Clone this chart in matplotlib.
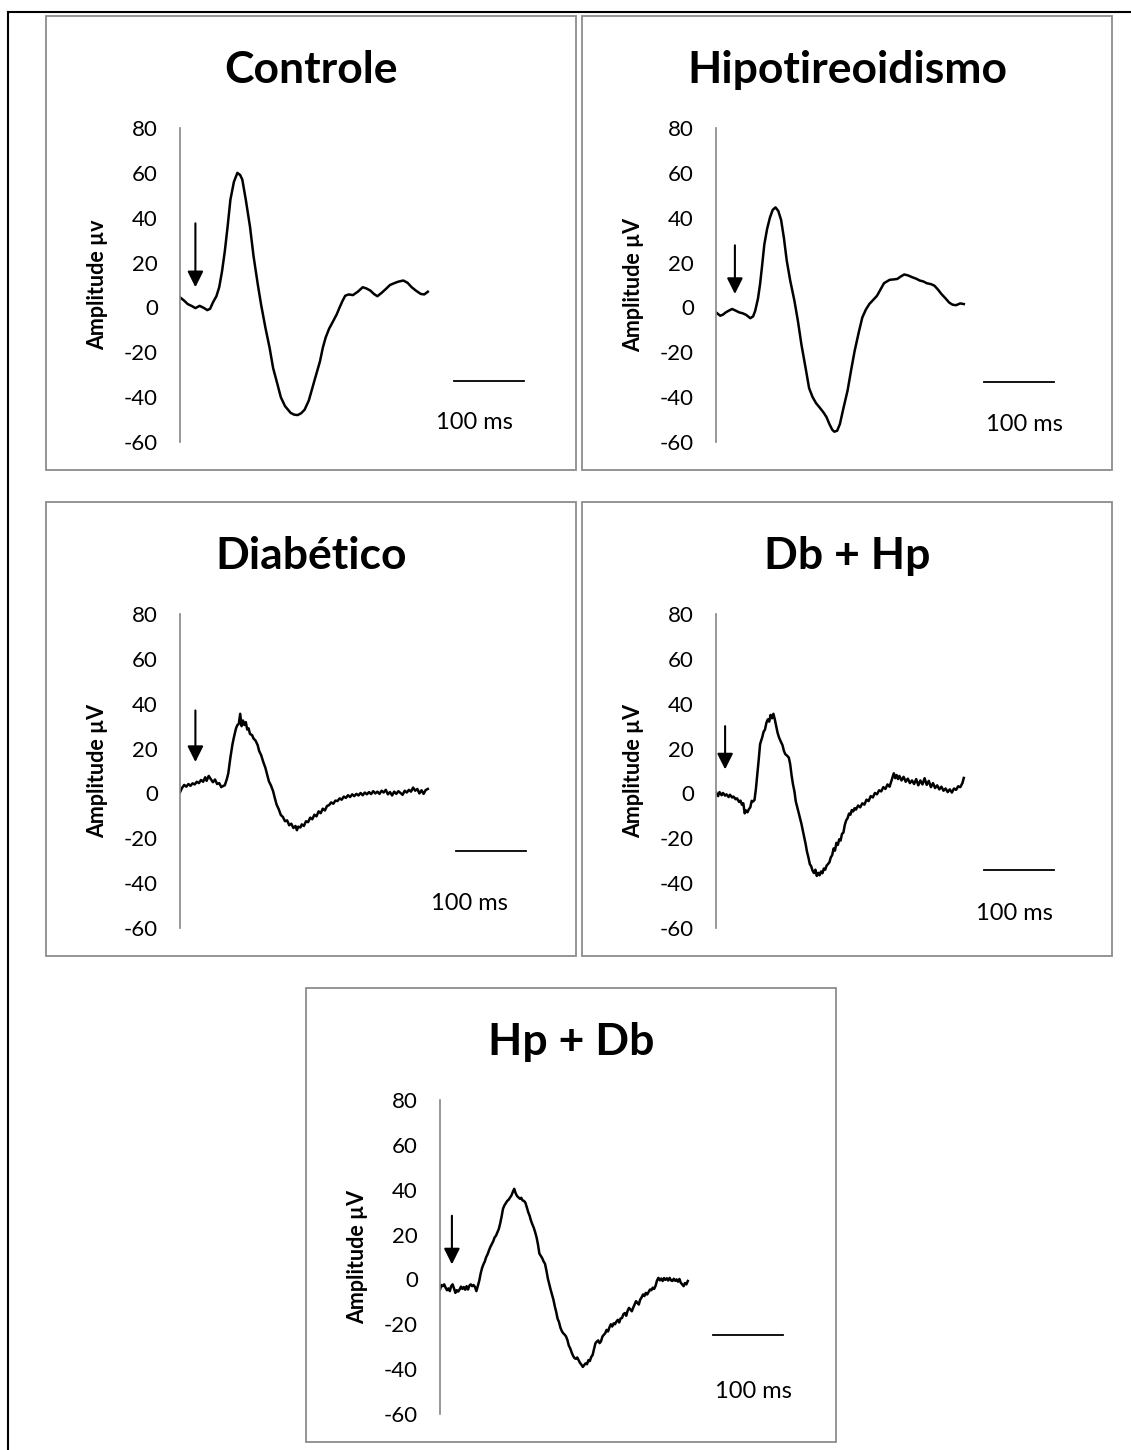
import matplotlib.pyplot as plt
from matplotlib.patches import Rectangle
from matplotlib.lines import Line2D

W, H = 1131, 1450
plt.rcParams['font.family'] = ['Lato', 'DejaVu Sans']
plt.rcParams['axes.unicode_minus'] = False

titles = ["Controle", "Hipotireoidismo", "Diabético", "Db + Hp", "Hp + Db"]
ylabels = ["Amplitude µv", "Amplitude µV", "Amplitude µV", "Amplitude µV", "Amplitude µV"]
yticks = [-60, -40, -20, 0, 20, 40, 60, 80]

# traces: time in ms, amplitude in microvolts
controle_t = [0, 6, 11, 17, 22, 28, 34, 39, 43, 47, 52, 56, 60, 64, 68, 72, 77, 82, 86, 89,
              94, 100, 105, 111, 116, 122, 128, 133, 139, 144, 150, 158, 163, 168, 173, 178,
              184, 189, 194, 200, 204, 208, 213, 219, 224, 228, 232, 236, 241, 247, 254, 261,
              266, 272, 277, 282, 288, 294, 300, 306, 312, 319, 325, 331, 337, 344, 349, 354]
controle_v = [4.5, 3.0, 1.5, 0.6, -0.3, 0.7, -0.2, -1.2, -0.6, 2.2, 5.0, 9.0, 16, 25, 36, 48, 56, 60, 59, 57,
              48, 36, 23, 10.5, 1, -9, -18, -27, -34, -40, -44, -47, -47.8, -48, -47.2, -45.6,
              -41.5, -36, -30.5, -24, -18, -13.5, -9.5, -6, -3, 0, 2.8, 5.2, 5.8, 5.5, 7.0, 9.0,
              8.5, 7.5, 6.0, 5.0, 6.5, 8.2, 10.0, 10.8, 11.5, 12.0, 11.0, 9.0, 7.5, 6.0, 5.8, 7.0]

hipo_t = [0, 6, 10, 14, 18, 23, 28, 33, 38, 43, 49, 53, 56, 60, 63, 66, 69, 73, 77, 81, 85,
          89, 93, 97, 101, 106, 112, 117, 122, 128, 133, 138, 143, 149, 154, 158, 162, 166, 169,
          173, 177, 182, 188, 193, 198, 204, 209, 214, 219, 225, 230, 235, 240, 248, 254, 259,
          264, 269, 275, 280, 286, 291, 296, 301, 307, 312, 317, 322, 328, 333, 338, 343, 349, 354]
hipo_v = [-2.2, -3.7, -3.2, -2.2, -1.5, -0.7, -1.4, -2.2, -2.6, -3.3, -4.8, -4.0, -1.5, 4, 10.5, 19, 28, 35, 40, 43.5, 44.6,
          43, 39, 31, 21, 12, 3, -6, -16.5, -27, -36, -40, -42.7, -45, -47, -49, -52, -54.5, -55.4,
          -55, -52, -45, -37, -28, -19.5, -11, -4.5, -1, 1.5, 3.5, 5.2, 8, 10.8, 12.3, 12.5, 12.7,
          13.8, 14.7, 14.2, 13.5, 12.8, 12.0, 11.6, 10.8, 10.4, 9.7, 8.0, 6.0, 4.0, 2.2, 1.2, 1.0, 1.8, 1.5]

diab_t = [0, 3, 6, 9, 12, 15, 18, 21, 24, 27, 30, 33, 36, 38, 41, 44, 47, 50, 53, 56, 59, 62, 64,
          67, 69, 72, 75, 77, 80, 82, 84, 86, 88, 90, 92, 94, 96, 98, 100, 103, 105, 108, 111, 113,
          116, 119, 122, 124, 127, 130, 133, 135, 138, 141, 144, 147, 150, 153, 156, 159, 162, 165,
          167, 169, 172, 174, 177, 180, 183, 186, 189, 192, 195, 198, 201, 204, 207, 210, 213, 216,
          219, 222, 225, 228, 231, 234, 237, 240, 243, 246, 249, 252, 255, 258, 261, 264, 267, 270,
          273, 276, 279, 282, 285, 288, 291, 294, 297, 300, 303, 306, 309, 312, 315, 318, 321, 324,
          327, 330, 333, 336, 339, 342, 345, 348, 351, 354]
diab_v = [0.5, 2.5, 3.8, 3.0, 4.2, 3.4, 4.5, 4.0, 5.2, 4.6, 6.0, 5.2, 7.2, 5.6, 7.8, 6.4, 5.0, 6.2, 4.2, 4.6, 2.8, 3.4, 3.6,
          6.5, 9.0, 16, 22, 25, 29, 30.5, 31, 35.5, 30, 32.5, 30.5, 31.8, 28.5, 29, 26.5, 26, 24.5, 23.5, 21.5, 19,
          17, 14, 11.4, 9, 5.4, 3.5, 1, -1.5, -5, -7, -9.6, -10.5, -12.4, -12, -14.2, -13.5, -15.4, -14.5,
          -16.4, -14.8, -15.2, -13.8, -14.5, -12.4, -12.8, -10.8, -11.5, -9.5, -10.2, -8, -8.8, -6.8, -7.6, -5.6, -5.2, -4.0,
          -4.6, -3.2, -3.4, -2.2, -2.8, -1.4, -2.0, -0.8, -1.6, -0.4, -1.2, -0.2, -0.9, 0.2, -0.8, 0.4, -0.4, 0.6,
          -0.3, 1.0, 0.0, 0.8, -0.2, 1.2, 0.4, 1.6, -0.4, 0.6, -0.9, 0.8, -0.2, 1.0, 0.2, -0.6, 1.2, 0.4,
          1.6, 0.8, 2.6, 1.2, 2.0, 0.0, 1.4, -0.2, 1.5, 2.0]

dbhp_t = [0, 3, 5, 8, 10, 13, 15, 18, 20, 23, 25, 28, 30, 33, 35, 37, 39, 41, 43, 45, 47, 49, 51, 53, 55,
          57, 59, 61, 63, 66, 68, 70, 72, 74, 76, 78, 80, 82, 84, 86, 88, 90, 92, 95, 97, 99, 101, 104,
          106, 108, 110, 112, 114, 116, 118, 120, 122, 124, 126, 128, 130, 132, 134, 136, 138, 140, 142,
          144, 146, 148, 150, 152, 154, 156, 158, 160, 162, 164, 166, 168, 170, 172, 174, 176, 178, 180,
          182, 184, 186, 188, 190, 192, 194, 196, 198, 200, 203, 206, 209, 212, 215, 218, 221, 224, 227,
          230, 233, 236, 239, 242, 245, 248, 250, 252, 254, 256, 258, 260, 262, 265, 268, 271, 274, 277,
          280, 283, 286, 289, 292, 295, 298, 301, 304, 307, 310, 313, 316, 319, 322, 325, 328, 331, 334,
          337, 340, 343, 346, 349, 352, 354]
dbhp_v = [0.5, -1.2, 0.6, -0.8, 0.2, -1.0, -0.4, -1.6, -0.6, -1.8, -1.4, -2.6, -2.2, -3.8, -3.2, -5.0, -4.4, -8.9, -7.6, -8.4, -7.0, -6.2, -3.3, -3.6, -2.9,
          2, 8.4, 15, 22, 25, 27.5, 28.5, 31.5, 33, 32, 35, 33.5, 35.5, 33, 30, 27, 25, 23.5, 21.5, 19, 17.5, 17, 16,
          13, 8, 4, 1, -3.6, -6, -8.5, -11, -13.5, -16.5, -19.5, -22.5, -26, -28.5, -31.5, -32.5, -34.5, -35.5, -34,
          -36.8, -35.4, -36.5, -34.8, -35.6, -33.5, -34, -32.2, -31.5, -30.7, -28.5, -27.5, -24.5, -25.5, -22, -23, -20.5, -21, -18,
          -17.5, -14, -12, -11, -9, -9.5, -7.4, -8, -6.6, -7.2, -5.4, -6.2, -4.4, -5, -2.8, -3.4, -1.2, -1.8, 0.2,
          -0.4, 1.4, 0.9, 2.8, 2.0, 4.0, 3.0, 5.0, 7.0, 9.0, 6.8, 8.2, 6.4, 7.8, 5.8, 7.4, 5.2, 6.6, 4.6,
          5.8, 4.2, 6.4, 3.6, 5.8, 4.0, 6.8, 3.8, 5.6, 2.8, 4.6, 2.4, 3.6, 1.8, 3.0, 1.2, 2.2, 0.6, 1.8,
          0.4, 2.2, 1.6, 3.2, 2.8, 4.6, 6.9]

hpdb_t = [0, 2, 4, 6, 8, 10, 12, 14, 16, 18, 20, 22, 24, 26, 28, 30, 32, 34, 36, 38, 40, 42, 44, 46, 48,
          50, 52, 54, 56, 58, 60, 62, 64, 66, 68, 70, 72, 74, 76, 78, 80, 82, 84, 86, 88, 90, 92, 94, 96,
          98, 100, 102, 104, 106, 108, 110, 112, 114, 116, 118, 120, 122, 124, 126, 128, 130, 132, 134,
          136, 138, 140, 142, 144, 146, 148, 150, 152, 154, 156, 158, 160, 162, 164, 166, 168, 170, 172,
          174, 176, 178, 180, 182, 184, 186, 188, 190, 192, 194, 196, 198, 200, 202, 204, 206, 208, 210,
          212, 214, 216, 218, 220, 222, 224, 226, 228, 230, 232, 234, 236, 238, 240, 242, 244, 246, 248,
          250, 252, 254, 256, 258, 260, 262, 264, 266, 268, 270, 272, 274, 276, 278, 280, 282, 284, 286,
          288, 290, 292, 294, 296, 298, 300, 302, 304, 306, 308, 310, 312, 314, 316, 318, 320, 322, 324,
          326, 328, 330, 332, 334, 336, 338, 340, 342, 344, 346, 348, 350, 352, 354]
hpdb_v = [-4.5, -2.5, -3.0, -2.2, -3.7, -4.8, -4.0, -5.2, -3.0, -2.2, -4.0, -6.0, -4.8, -5.4, -4.5, -3.2, -4.2, -3.4, -4.6, -3.0, -4.5, -2.8, -2.2, -3.0, -2.5,
          -3.4, -5.2, -3.0, -0.7, 2.5, 5.0, 6.7, 8.0, 10.0, 11.2, 13.0, 14.5, 15.7, 17, 18.7, 19.5, 21, 22.5, 25, 28, 31.5, 33, 34, 35,
          35.5, 36.5, 37.4, 39, 40.4, 38.5, 37.2, 36.6, 36, 36.4, 35.2, 35, 34.2, 32.2, 30, 28.4, 26.2, 24.5, 23,
          21, 18.7, 15.5, 11.5, 10.5, 9.5, 8, 7, 4, 0.5, -2, -4.5, -6.7, -9, -12, -14.5, -17.5, -19, -21.5,
          -23, -24, -24.6, -25.4, -27, -29.5, -30.7, -32.5, -34, -35, -35.4, -34.8, -36, -37.2, -38, -39, -38.2, -37.4, -37.8,
          -36, -36.4, -34.6, -33.7, -31, -28.5, -27.7, -27.2, -28.4, -27.6, -25.5, -24.7, -24.0, -22.5, -23.2, -21.4, -20, -21, -19.6,
          -20, -18.8, -18, -19.2, -17.4, -17.2, -15.5, -15, -16.2, -14, -12.7, -13.4, -14.2, -12.6, -11.2, -9.7, -10.4, -11.2, -9.0,
          -8.0, -6.7, -7.4, -6.0, -6.7, -5.6, -4.5, -4.8, -3.7, -4.2, -2.8, -0.5, 0.7, -0.4, 0.4, -0.7, 0.6, -0.2, 0.5,
          -0.5, 0.7, -0.4, -0.7, 0.3, -0.6, 0, -1.0, 0.2, -1.5, -2.2, -3.0, -1.6, -2.2, -0.7]

traces_t = [controle_t, hipo_t, diab_t, dbhp_t, hpdb_t]
traces_v = [controle_v, hipo_v, diab_v, dbhp_v, hpdb_v]

# stimulus arrows (time, start, end) and 100 ms scale bars (start, y, label x, label y)
arrows = [(22, 37.5, 9), (27, 27.7, 6), (22, 37, 14), (13, 30, 10.7), (17, 28.4, 6.7)]
bars = [(392, -32.8, 420, -51.5), (383, -33.2, 440, -52), (394, -25.8, 414, -49),
        (383, -34, 427, -53.5), (390, -24.7, 448, -50)]

# panel boxes: left, top in pixels
panels = [(46, 16), (582, 16), (46, 502), (582, 502), (306, 988)]
BOX_W, BOX_H = 530, 454
AX_DX, AX_DY, AX_W, AX_H = 134, 112, 380, 314
TITLE_BASE = 67
PX_PER_MS = 0.70

fig = plt.figure(figsize=(W / 100, H / 100), dpi=100)

# outer frame (left and top)
fig.add_artist(Line2D([7.5 / W, 7.5 / W], [0, 1 - 11.5 / H], transform=fig.transFigure, color='black', lw=1.5))
fig.add_artist(Line2D([7.5 / W, 1], [1 - 11.5 / H, 1 - 11.5 / H], transform=fig.transFigure, color='black', lw=1.5))

for i, (px, py) in enumerate(panels):
    fig.add_artist(Rectangle((px / W, 1 - (py + BOX_H) / H), BOX_W / W, BOX_H / H,
                             transform=fig.transFigure, fill=False, edgecolor='#8c8c8c', lw=1.3))
    fig.text((px + BOX_W / 2) / W, 1 - (py + TITLE_BASE) / H, titles[i], ha='center', va='baseline',
             fontsize=32, fontweight='bold')

    ax = fig.add_axes([(px + AX_DX) / W, 1 - (py + AX_DY + AX_H) / H, AX_W / W, AX_H / H])
    ax.set_xlim(0, AX_W / PX_PER_MS)
    ax.set_ylim(-60, 80)
    for s in ['top', 'right', 'bottom']:
        ax.spines[s].set_visible(False)
    ax.spines['left'].set_color('#868686')
    ax.spines['left'].set_linewidth(1.2)
    ax.set_xticks([])
    ax.set_yticks(yticks)
    ax.tick_params(axis='y', length=0, pad=16, labelsize=16)
    ax.patch.set_alpha(0)

    ax.plot(traces_t[i], traces_v[i], color='black', lw=1.8, solid_joinstyle='round')

    at, a0, a1 = arrows[i]
    ax.annotate('', xy=(at, a1), xytext=(at, a0),
                arrowprops=dict(arrowstyle='-|>', color='black', lw=1.5, mutation_scale=24,
                                shrinkA=0, shrinkB=0))

    b0, by, lx, ly = bars[i]
    ax.plot([b0, b0 + 100], [by, by], color='black', lw=1.3)
    ax.text(lx, ly, '100 ms', ha='center', va='center', fontsize=17)

    ax.text(-82 / AX_W, 0.5, ylabels[i], rotation=90, ha='center', va='center',
            transform=ax.transAxes, fontsize=15.5, fontweight='bold')

fig.savefig('out.png', dpi=100)
